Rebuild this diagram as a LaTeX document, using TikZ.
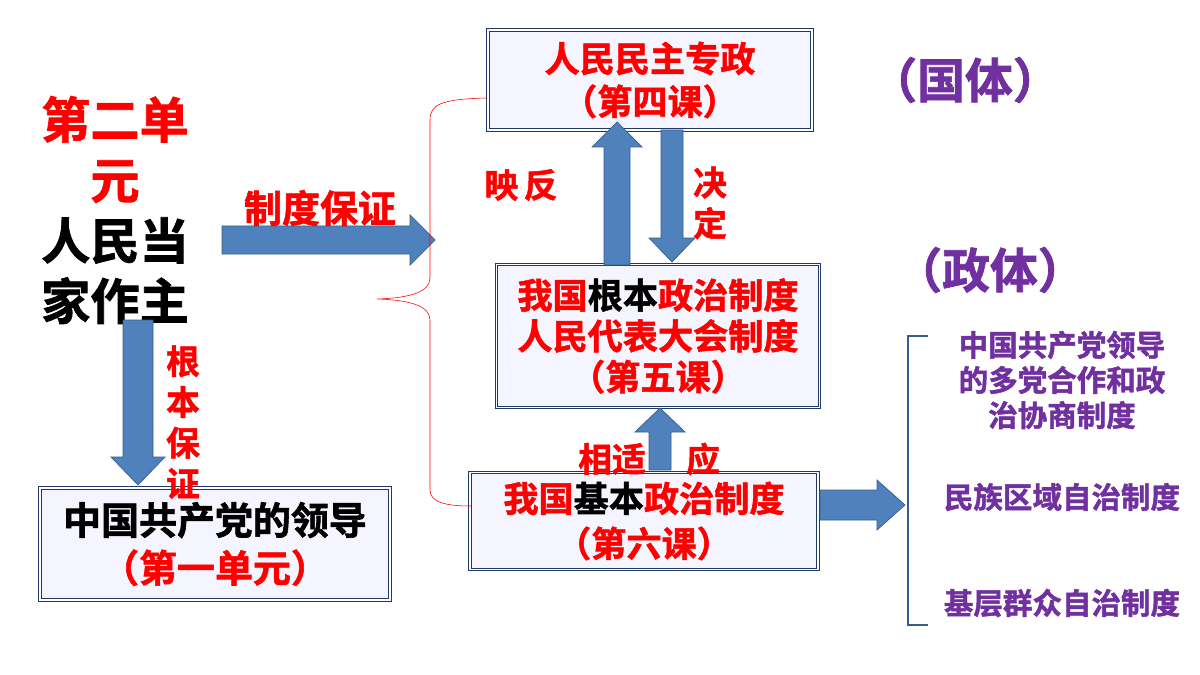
\documentclass[tikz,border=0pt]{standalone}
\usepackage{fontspec}
\setmainfont{Noto Sans CJK SC}[BoldFont={Noto Sans CJK SC Bold}, BoldFeatures={FakeBold=1.5}]
\definecolor{boxred}{HTML}{FF0000}
\definecolor{arrowblue}{HTML}{4F81BD}
\definecolor{arrowedge}{HTML}{385D8A}
\definecolor{navy}{HTML}{1F3864}
\definecolor{plum}{HTML}{7030A0}
\tikzset{
  lesson/.style={draw=navy, line width=1.6pt, double=white, double distance=1.6pt,
    fill=blue!4, align=center, inner sep=0pt},
  blockarrow/.style={draw=arrowedge, fill=arrowblue, line width=1pt},
  redlabel/.style={text=boxred, font=\bfseries\fontsize{48}{58}\selectfont, align=center},
  plumlabel/.style={text=plum, font=\bfseries\fontsize{42}{50}\selectfont, align=center},
}
% horizontal block arrow: x from, x to, y, shaft half, head half, signed head length
\newcommand{\harrow}[6]{\filldraw[blockarrow] (#1,#3-#4) -- (#2-#6,#3-#4) -- (#2-#6,#3-#5)
  -- (#2,#3) -- (#2-#6,#3+#5) -- (#2-#6,#3+#4) -- (#1,#3+#4) -- cycle;}
% vertical block arrow: y from, y to, x, shaft half, head half, signed head length
\newcommand{\varrow}[6]{\filldraw[blockarrow] (#3-#4,#1) -- (#3-#4,#2-#6) -- (#3-#5,#2-#6)
  -- (#3,#2) -- (#3+#5,#2-#6) -- (#3+#4,#2-#6) -- (#3+#4,#1) -- cycle;}
\begin{document}
\begin{tikzpicture}[x=0.05cm, y=-0.05cm]
  \useasboundingbox[fill=white] (0,0) rectangle (1200,675);

  % title
  \node[font=\bfseries\fontsize{70}{86}\selectfont, align=center] (unit) at (115,210)
    {\textcolor{boxred}{第二单}\\\textcolor{boxred}{元}\\人民当\\家作主};

  % boxes
  \node[lesson, minimum width=16.2cm, minimum height=5cm, text=boxred,
    font=\bfseries\fontsize{50}{61}\selectfont] (dictatorship) at (650,80)
    {人民民主专政\\（第四课）};
  \node[lesson, minimum width=16.15cm, minimum height=7.15cm, text=boxred,
    font=\bfseries\fontsize{50}{58}\selectfont] (congress) at (658,336)
    {我国\textcolor{black}{根本}政治制度\\人民代表大会制度\\（第五课）};
  \node[lesson, minimum width=17.4cm, minimum height=4.85cm, text=boxred,
    font=\bfseries\fontsize{50}{64}\selectfont] (basic) at (644,521)
    {我国\textcolor{black}{基本}政治制度\\（第六课）};
  \node[lesson, minimum width=17.5cm, minimum height=5.6cm,
    font=\bfseries\fontsize{54}{68}\selectfont] (party) at (215,544)
    {中国共产党的领导\\\textcolor{boxred}{（第一单元）}};

  % block arrows
  \harrow{222}{435}{240}{14}{25}{25}
  \varrow{320}{485}{138}{15}{27}{28}
  \varrow{265}{122}{617}{13}{25}{-25}
  \varrow{130}{262}{672}{11}{23}{24}
  \varrow{470}{408}{660}{11}{25}{-24}
  \harrow{820}{905}{505}{15}{25}{28}

  % labels
  \node[redlabel, font=\bfseries\fontsize{54}{64}\selectfont] (guaranteetext) at (320,208) {制度保证};
  \node[redlabel] (roottext) at (183,422) {根\\本\\保\\证};
  \node[redlabel] (reflecttext) at (521,185) {映\,反};
  \node[redlabel] (decidetext) at (710,203) {决\\定};
  \node[redlabel] (adapttext) at (612,459) {相适};
  \node[redlabel] (adapttext2) at (703,459) {应};
  \node[text=plum, font=\bfseries\fontsize{68}{80}\selectfont] (statetext) at (965,80) {（国体）};
  \node[text=plum, font=\bfseries\fontsize{68}{80}\selectfont] (formtext) at (990,270) {（政体）};

  % brace
  \coordinate (bracetop) at (487,98);
  \coordinate (bracetip) at (377,299);
  \coordinate (bracebot) at (471,506);
  \draw[boxred, line width=0.8pt] (bracetop) .. controls (440,99) and (430,105) .. (430,120)
    -- (430,278) .. controls (430,292) and (410,298) .. (bracetip)
    .. controls (410,300) and (430,306) .. (430,320)
    -- (430,490) .. controls (430,502) and (445,506) .. (bracebot);

  % systems
  \coordinate (brackettop) at (928,336);
  \coordinate (bracketbot) at (928,625);
  \draw[arrowedge, line width=1.5pt] (brackettop) -- (908,336) -- (908,625) -- (bracketbot);
  \node[plumlabel] (cooperation) at (1062,380)
    {中国共产党领导\\的多党合作和政\\治协商制度};
  \node[plumlabel] (autonomy) at (1062,497) {民族区域自治制度};
  \node[plumlabel] (grassroots) at (1062,603) {基层群众自治制度};
\end{tikzpicture}
\end{document}
